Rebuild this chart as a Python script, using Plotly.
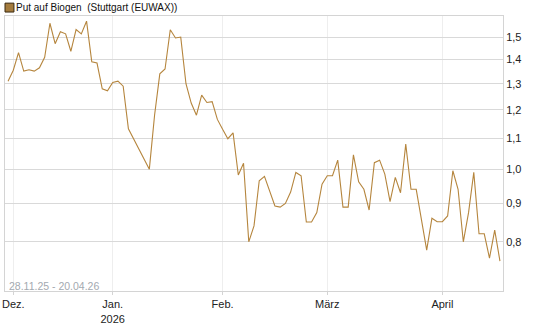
import plotly.graph_objects as go

# Trading days (Stuttgart / EUWAX), 28.11.25 - 20.04.26
dates = [
    "2025-11-28",
    "2025-12-01", "2025-12-02", "2025-12-03", "2025-12-04", "2025-12-05",
    "2025-12-08", "2025-12-09", "2025-12-10", "2025-12-11", "2025-12-12",
    "2025-12-15", "2025-12-16", "2025-12-17", "2025-12-18", "2025-12-19",
    "2025-12-22", "2025-12-23", "2025-12-29", "2025-12-30",
    "2026-01-02", "2026-01-05", "2026-01-06", "2026-01-07", "2026-01-08", "2026-01-09",
    "2026-01-12", "2026-01-13", "2026-01-14", "2026-01-15", "2026-01-16",
    "2026-01-19", "2026-01-20", "2026-01-21", "2026-01-22", "2026-01-23",
    "2026-01-26", "2026-01-27", "2026-01-28", "2026-01-29", "2026-01-30",
    "2026-02-02", "2026-02-03", "2026-02-04", "2026-02-05", "2026-02-06",
    "2026-02-09", "2026-02-10", "2026-02-11", "2026-02-12", "2026-02-13",
    "2026-02-16", "2026-02-17", "2026-02-18", "2026-02-19", "2026-02-20",
    "2026-02-23", "2026-02-24", "2026-02-25", "2026-02-26", "2026-02-27",
    "2026-03-02", "2026-03-03", "2026-03-04", "2026-03-05", "2026-03-06",
    "2026-03-09", "2026-03-10", "2026-03-11", "2026-03-12", "2026-03-13",
    "2026-03-16", "2026-03-17", "2026-03-18", "2026-03-19", "2026-03-20",
    "2026-03-23", "2026-03-24", "2026-03-25", "2026-03-26", "2026-03-27",
    "2026-03-30", "2026-03-31",
    "2026-04-01", "2026-04-02", "2026-04-07", "2026-04-08", "2026-04-09", "2026-04-10",
    "2026-04-13", "2026-04-14", "2026-04-15", "2026-04-16", "2026-04-17",
    "2026-04-20",
]

prices = [
    1.31,
    1.355, 1.43, 1.351, 1.357, 1.351,
    1.365, 1.41, 1.565, 1.47, 1.525,
    1.515, 1.436, 1.535, 1.515, 1.575,
    1.39, 1.385, 1.28, 1.272,
    1.305, 1.31, 1.29, 1.132, None, None,
    None, 1.0, 1.18, 1.34, 1.36,
    1.534, 1.496, 1.50, 1.30, 1.225,
    1.18, 1.255, 1.227, 1.23, 1.165,
    1.13, 1.098, 1.118, 0.982, 1.018,
    0.80, 0.84, 0.965, 0.978, 0.935,
    0.893, 0.89, 0.90, 0.932, 0.99,
    0.98, 0.85, 0.85, 0.875, 0.955,
    0.98, 0.98, 1.028, 0.89, 0.89,
    1.045, 0.962, 0.94, 0.882, 1.02,
    1.028, 0.985, 0.905, 0.975, 0.93,
    1.08, 0.94, 0.94, 0.855, 0.78,
    0.86, 0.851,
    0.851, 0.866, 0.995, 0.94, 0.80, 0.875,
    0.99, 0.82, 0.82, 0.761, 0.829,
    0.754,
]

holidays = ["2025-12-24", "2025-12-25", "2025-12-26", "2025-12-31",
            "2026-01-01", "2026-04-03", "2026-04-06"]

month_ticks = ["2025-12-01", "2026-01-02", "2026-02-02", "2026-03-02", "2026-04-01"]
month_labels = ["Dez.", "Jan.<br>2026", "Feb.", "März", "April"]

y_ticks = [0.8, 0.9, 1.0, 1.1, 1.2, 1.3, 1.4, 1.5]

series_name = "Put auf Biogen  (Stuttgart (EUWAX))"
period_text = "28.11.25 - 20.04.26"

line_color = "#b5853d"
font_family = "Liberation Sans, Arial, sans-serif"

fig = go.Figure()
fig.add_trace(go.Scatter(
    x=dates, y=prices, mode="lines",
    line=dict(color=line_color, width=1.1),
    connectgaps=True, showlegend=False, hoverinfo="x+y",
))

fig.update_layout(
    width=545, height=327,
    margin=dict(l=2, r=42, t=16, b=33),
    paper_bgcolor="white", plot_bgcolor="white",
    separators=",.",
    font=dict(family=font_family, size=11, color="#222222"),
    xaxis=dict(
        type="date",
        range=["2025-11-27 10:00", "2026-04-20 14:00"],
        rangebreaks=[dict(bounds=["sat", "mon"]), dict(values=holidays)],
        tickvals=month_ticks, ticktext=month_labels,
        showgrid=True, gridcolor="#eeeeee", gridwidth=1,
        showline=True, linecolor="#d4d4d4", linewidth=1, mirror=True,
        ticks="outside", ticklen=3, tickcolor="#d4d4d4",
        tickfont=dict(size=11, color="#222222"),
        zeroline=False,
    ),
    yaxis=dict(
        type="log", side="right",
        range=[-0.1625, 0.2042],
        tickvals=y_ticks, tickformat=".1f",
        showgrid=True, gridcolor="#d9d9d9", gridwidth=1,
        showline=True, linecolor="#d4d4d4", linewidth=1, mirror=True,
        ticks="", tickfont=dict(size=11, color="#222222"),
        zeroline=False,
    ),
    shapes=[dict(
        type="rect", xref="paper", yref="paper",
        x0=0.0, x1=9 / 501, y0=1 + 4 / 278, y1=1 + 13 / 278,
        fillcolor="#a47b3d", line=dict(color="#3a2a10", width=1),
    )],
    annotations=[
        dict(text=series_name, xref="paper", yref="paper",
             x=9 / 501, y=1 + 8.5 / 278, xanchor="left", yanchor="middle",
             showarrow=False, font=dict(size=10, color="#111111")),
        dict(text=period_text, xref="paper", yref="paper",
             x=2 / 501, y=5 / 278, xanchor="left", yanchor="middle",
             showarrow=False, font=dict(size=10.5, color="#a3a9b0")),
    ],
)

fig.write_html("out.html")
